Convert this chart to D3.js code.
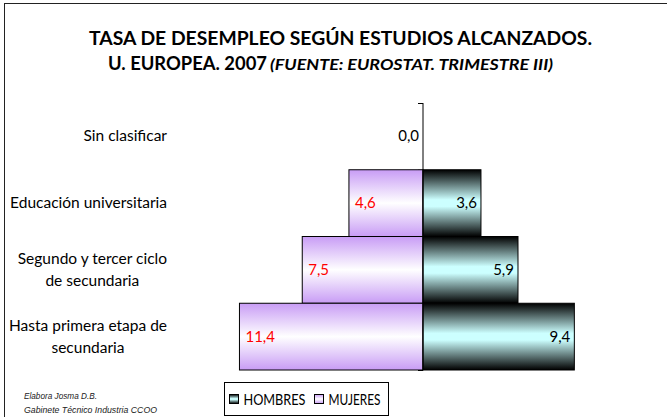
<!DOCTYPE html>
<html>
<head>
<meta charset="utf-8">
<script src="https://cdn.jsdelivr.net/npm/d3@7"></script>
<style>
  body { margin: 0; background: #fff; }
  svg { display: block; }
</style>
</head>
<body>
<div id="chart"></div>
<script>
// data
var categories = ["Sin clasificar", "Educación universitaria", "Segundo y tercer ciclo de secundaria", "Hasta primera etapa de secundaria"];
var labelLines = [["Sin clasificar"], ["Educación universitaria"], ["Segundo y tercer ciclo", "de secundaria"], ["Hasta primera etapa de", "secundaria"]];
var hombres = [0.0, 3.6, 5.9, 9.4];
var mujeres = [null, 4.6, 7.5, 11.4];
var seriesNames = ["HOMBRES", "MUJERES"];
var titleLine1 = "TASA DE DESEMPLEO SEGÚN ESTUDIOS ALCANZADOS.";
var titleLine2a = "U. EUROPEA. 2007";
var titleLine2b = "(FUENTE: EUROSTAT. TRIMESTRE III)";
var credits = ["Elabora Josma D.B.", "Gabinete Técnico Industria CCOO"];

var width = 667, height = 417;
var font = "Lato, 'Open Sans', sans-serif";

var svg = d3.select("#chart").append("svg")
    .attr("width", width)
    .attr("height", height);

var defs = svg.append("defs");

// vertical gradients like the excel fills
var gH = defs.append("linearGradient").attr("id", "gradH")
    .attr("x1", 0).attr("y1", 0).attr("x2", 0).attr("y2", 1);
gH.append("stop").attr("offset", "0%").attr("stop-color", "#000000");
gH.append("stop").attr("offset", "45%").attr("stop-color", "#ccffff");
gH.append("stop").attr("offset", "55%").attr("stop-color", "#ccffff");
gH.append("stop").attr("offset", "100%").attr("stop-color", "#000000");

var gM = defs.append("linearGradient").attr("id", "gradM")
    .attr("x1", 0).attr("y1", 0).attr("x2", 0).attr("y2", 1);
gM.append("stop").attr("offset", "0%").attr("stop-color", "#c89cf5");
gM.append("stop").attr("offset", "50%").attr("stop-color", "#ffffff");
gM.append("stop").attr("offset", "100%").attr("stop-color", "#c89cf5");

// chart border
svg.append("rect")
    .attr("x", 4.5).attr("y", 3.5)
    .attr("width", 760).attr("height", 480)
    .attr("fill", "none")
    .attr("stroke", "#222")
    .attr("stroke-width", 1);

// title
svg.append("text")
    .attr("x", 89).attr("y", 45)
    .attr("font-family", font)
    .attr("font-weight", "bold")
    .attr("font-size", 19.5)
    .attr("textLength", 503)
    .attr("lengthAdjust", "spacingAndGlyphs")
    .text(titleLine1);

svg.append("text")
    .attr("x", 108).attr("y", 70)
    .attr("font-family", font)
    .attr("font-weight", "bold")
    .attr("font-size", 19.5)
    .attr("textLength", 159)
    .attr("lengthAdjust", "spacingAndGlyphs")
    .text(titleLine2a);

svg.append("text")
    .attr("x", 270).attr("y", 70)
    .attr("font-family", font)
    .attr("font-weight", "bold")
    .attr("font-style", "italic")
    .attr("font-size", 15.5)
    .attr("textLength", 283)
    .attr("lengthAdjust", "spacingAndGlyphs")
    .text(titleLine2b);

// scales
var x = d3.scaleLinear().domain([-12, 12]).range([229.8, 616.2]);
var y = d3.scaleBand().domain(categories).range([103, 370]).padding(0);

var rows = categories.map(function(c, i) {
  return {cat: c, lines: labelLines[i], h: hombres[i], m: mujeres[i]};
});

var fmt = function(v) { return d3.format(".1f")(v).replace(".", ","); };

// tick marks at band edges
var edges = categories.map(function(c) { return y(c); }).concat([y.range()[1]]);
svg.selectAll(".tick-mark")
    .data(edges)
    .enter()
    .append("line")
    .attr("class", "tick-mark")
    .attr("x1", x(0) - 5).attr("x2", x(0))
    .attr("y1", function(d) { return d + 0.5; })
    .attr("y2", function(d) { return d + 0.5; })
    .attr("stroke", "#000");

// mujeres bars (left)
svg.selectAll(".bar-m")
    .data(rows.filter(function(d) { return d.m; }))
    .enter()
    .append("rect")
    .attr("class", "bar-m")
    .attr("x", function(d) { return x(-d.m); })
    .attr("y", function(d) { return y(d.cat); })
    .attr("width", function(d) { return x(0) - x(-d.m); })
    .attr("height", y.bandwidth())
    .attr("fill", "url(#gradM)")
    .attr("stroke", "#000")
    .attr("stroke-width", 1);

// hombres bars (right)
svg.selectAll(".bar-h")
    .data(rows.filter(function(d) { return d.h > 0; }))
    .enter()
    .append("rect")
    .attr("class", "bar-h")
    .attr("x", x(0))
    .attr("y", function(d) { return y(d.cat); })
    .attr("width", function(d) { return x(d.h) - x(0); })
    .attr("height", y.bandwidth())
    .attr("fill", "url(#gradH)")
    .attr("stroke", "#000")
    .attr("stroke-width", 1);

// axis line
svg.append("line")
    .attr("x1", x(0)).attr("x2", x(0))
    .attr("y1", y.range()[0]).attr("y2", y.range()[1])
    .attr("stroke", "#000");

// value labels
svg.selectAll(".lab-m")
    .data(rows.filter(function(d) { return d.m != null; }))
    .enter()
    .append("text")
    .attr("class", "lab-m")
    .attr("x", function(d) { return x(-d.m) + 6; })
    .attr("y", function(d) { return y(d.cat) + y.bandwidth() / 2 + 5; })
    .attr("font-family", font)
    .attr("font-size", 15)
    .attr("fill", "#ff0000")
    .text(function(d) { return fmt(d.m); });

svg.selectAll(".lab-h")
    .data(rows)
    .enter()
    .append("text")
    .attr("class", "lab-h")
    .attr("x", function(d) { return x(d.h) - 4; })
    .attr("y", function(d) { return y(d.cat) + y.bandwidth() / 2 + 5; })
    .attr("text-anchor", "end")
    .attr("font-family", font)
    .attr("font-size", 15)
    .attr("fill", "#000")
    .text(function(d) { return fmt(d.h); });

// category labels: block right-aligned, lines centred inside it
var labelRight = 167;
rows.forEach(function(d) {
  var g = svg.append("g");
  var n = d.lines.length;
  var cy = y(d.cat) + y.bandwidth() / 2;
  var texts = d.lines.map(function(line, j) {
    return g.append("text")
      .attr("y", cy + 5 + (j - (n - 1) / 2) * 22)
      .attr("font-family", font)
      .attr("font-size", 15.5)
      .attr("fill", "#000")
      .attr("text-anchor", "middle")
      .text(line);
  });
  var maxW = d3.max(texts, function(t) { return t.node().getComputedTextLength(); });
  texts.forEach(function(t) { t.attr("x", labelRight - maxW / 2); });
});

// legend
var leg = svg.append("g");
leg.append("rect")
    .attr("x", 224.5).attr("y", 382.5)
    .attr("width", 164).attr("height", 33)
    .attr("fill", "#fff")
    .attr("stroke", "#000");
var legX = [229.5, 314.5];
var legW = [62, 52];
var legFill = ["url(#gradH)", "url(#gradM)"];
seriesNames.forEach(function(name, i) {
  leg.append("rect")
    .attr("x", legX[i]).attr("y", 394.5)
    .attr("width", 9).attr("height", 9)
    .attr("fill", legFill[i])
    .attr("stroke", "#000");
  leg.append("text")
    .attr("x", legX[i] + 14).attr("y", 405)
    .attr("font-family", font)
    .attr("font-size", 15)
    .attr("textLength", legW[i])
    .attr("lengthAdjust", "spacingAndGlyphs")
    .attr("fill", "#000")
    .text(name);
});

// credits
var creditW = [73, 133];
svg.selectAll(".credit")
    .data(credits)
    .enter()
    .append("text")
    .attr("class", "credit")
    .attr("x", 24)
    .attr("y", function(d, i) { return 399 + i * 14; })
    .attr("font-family", "'Liberation Sans', Arial, sans-serif")
    .attr("font-style", "italic")
    .attr("font-size", 9.5)
    .attr("textLength", function(d, i) { return creditW[i]; })
    .attr("lengthAdjust", "spacingAndGlyphs")
    .attr("fill", "#222")
    .text(function(d) { return d; });
</script>
</body>
</html>
